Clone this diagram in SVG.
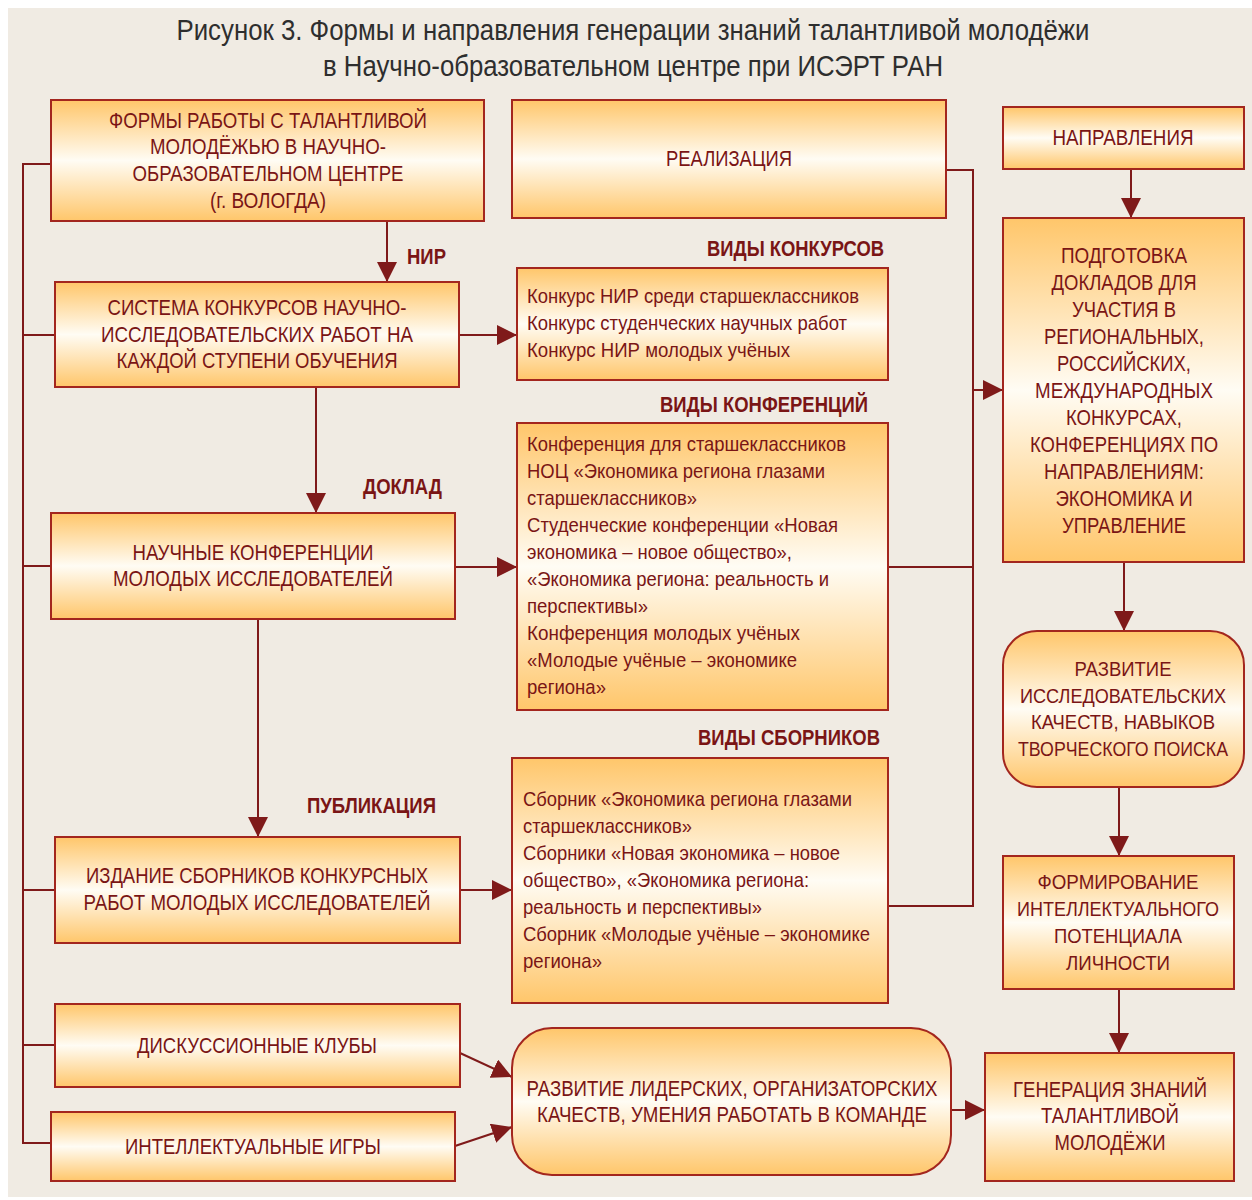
<svg xmlns="http://www.w3.org/2000/svg" width="1252" height="1200" viewBox="0 0 1252 1200">
<defs>
<linearGradient id="g" x1="0" y1="0" x2="0" y2="1">
<stop offset="0" stop-color="#ffc66a"/>
<stop offset="0.5" stop-color="#fffcf4"/>
<stop offset="1" stop-color="#ffc66a"/>
</linearGradient>
<marker id="ah" markerWidth="20" markerHeight="20" refX="20" refY="10" orient="auto" markerUnits="userSpaceOnUse">
<path d="M0,0 L20,10 L0,20 z" fill="#7f1a1a"/>
</marker>
<style>
.box{fill:url(#g);stroke:#a3261e;stroke-width:2}
.t{font-family:"Liberation Sans",Arial,sans-serif;font-size:22px;fill:#7a1515;text-anchor:middle}
.s{font-family:"Liberation Sans",Arial,sans-serif;font-size:21px;fill:#7a1515;text-anchor:middle}
.l{font-family:"Liberation Sans",Arial,sans-serif;font-size:21px;fill:#7a1515;text-anchor:start}
.b{font-family:"Liberation Sans",Arial,sans-serif;font-size:22px;font-weight:bold;fill:#7a1515;text-anchor:start}
.title{font-family:"Liberation Sans",Arial,sans-serif;font-size:29px;fill:#2e2e2e;text-anchor:middle}
.c{fill:none;stroke:#7f1a1a;stroke-width:2}
.a{fill:none;stroke:#7f1a1a;stroke-width:2;marker-end:url(#ah)}
</style>
</defs>
<rect x="0" y="0" width="1252" height="1200" fill="#ffffff"/>
<rect x="8" y="8" width="1244" height="1189" fill="#f0ebe3"/>

<g id="title">
<text class="title" x="633" y="40" textLength="913" lengthAdjust="spacingAndGlyphs">Рисунок 3. Формы и направления генерации знаний талантливой молодёжи</text>
<text class="title" x="633" y="76" textLength="620" lengthAdjust="spacingAndGlyphs">в Научно-образовательном центре при ИСЭРТ РАН</text>
</g>

<g id="connectors">
<path class="c" d="M51,164 H23 V1143 H51"/>
<path class="c" d="M23,335 H55"/>
<path class="c" d="M23,566 H51"/>
<path class="c" d="M23,890 H55"/>
<path class="c" d="M23,1045 H55"/>
<path class="a" d="M387,222 V282"/>
<path class="a" d="M316,388 V513"/>
<path class="a" d="M258,619 V837"/>
<path class="a" d="M459,335 H517"/>
<path class="a" d="M455,567 H517"/>
<path class="a" d="M460,890 H512"/>
<path class="a" d="M460,1053 L512,1077"/>
<path class="a" d="M455,1146 L512,1127"/>
<path class="a" d="M951,1110 H985"/>
<path class="a" d="M1131,169 V218"/>
<path class="a" d="M1124,562 V631"/>
<path class="a" d="M1119,787 V856"/>
<path class="a" d="M1119,989 V1053"/>
<path class="c" d="M946,170 H973 V906 H888"/>
<path class="c" d="M888,567 H973"/>
<path class="a" d="M973,390 H1003"/>
</g>

<g id="labels">
<text class="b" x="407" y="264" textLength="39" lengthAdjust="spacingAndGlyphs">НИР</text>
<text class="b" x="363" y="494" textLength="79" lengthAdjust="spacingAndGlyphs">ДОКЛАД</text>
<text class="b" x="307" y="813" textLength="129" lengthAdjust="spacingAndGlyphs">ПУБЛИКАЦИЯ</text>
<text class="b" x="707" y="256" textLength="177" lengthAdjust="spacingAndGlyphs">ВИДЫ КОНКУРСОВ</text>
<text class="b" x="660" y="412" textLength="208" lengthAdjust="spacingAndGlyphs">ВИДЫ КОНФЕРЕНЦИЙ</text>
<text class="b" x="698" y="745" textLength="182" lengthAdjust="spacingAndGlyphs">ВИДЫ СБОРНИКОВ</text>
</g>

<g id="forms">
<rect class="box" x="51" y="100" width="433" height="121"/>
<text class="t" x="268" y="128" textLength="318" lengthAdjust="spacingAndGlyphs">ФОРМЫ РАБОТЫ С ТАЛАНТЛИВОЙ</text>
<text class="t" x="268" y="154" textLength="236" lengthAdjust="spacingAndGlyphs">МОЛОДЁЖЬЮ В НАУЧНО-</text>
<text class="t" x="268" y="181" textLength="271" lengthAdjust="spacingAndGlyphs">ОБРАЗОВАТЕЛЬНОМ ЦЕНТРЕ</text>
<text class="t" x="268" y="208" textLength="116" lengthAdjust="spacingAndGlyphs">(г. ВОЛОГДА)</text>
</g>

<g id="realization">
<rect class="box" x="512" y="100" width="434" height="118"/>
<text class="t" x="729" y="166" textLength="126" lengthAdjust="spacingAndGlyphs">РЕАЛИЗАЦИЯ</text>
</g>

<g id="directions">
<rect class="box" x="1003" y="107" width="241" height="62"/>
<text class="t" x="1123" y="145" textLength="141" lengthAdjust="spacingAndGlyphs">НАПРАВЛЕНИЯ</text>
</g>

<g id="preparation">
<rect class="box" x="1003" y="218" width="241" height="344"/>
<text class="t" x="1124" y="263" textLength="126" lengthAdjust="spacingAndGlyphs">ПОДГОТОВКА</text>
<text class="t" x="1124" y="290" textLength="145" lengthAdjust="spacingAndGlyphs">ДОКЛАДОВ ДЛЯ</text>
<text class="t" x="1124" y="317" textLength="104" lengthAdjust="spacingAndGlyphs">УЧАСТИЯ В</text>
<text class="t" x="1124" y="344" textLength="160" lengthAdjust="spacingAndGlyphs">РЕГИОНАЛЬНЫХ,</text>
<text class="t" x="1124" y="371" textLength="134" lengthAdjust="spacingAndGlyphs">РОССИЙСКИХ,</text>
<text class="t" x="1124" y="398" textLength="178" lengthAdjust="spacingAndGlyphs">МЕЖДУНАРОДНЫХ</text>
<text class="t" x="1124" y="425" textLength="116" lengthAdjust="spacingAndGlyphs">КОНКУРСАХ,</text>
<text class="t" x="1124" y="452" textLength="188" lengthAdjust="spacingAndGlyphs">КОНФЕРЕНЦИЯХ ПО</text>
<text class="t" x="1124" y="479" textLength="160" lengthAdjust="spacingAndGlyphs">НАПРАВЛЕНИЯМ:</text>
<text class="t" x="1124" y="506" textLength="137" lengthAdjust="spacingAndGlyphs">ЭКОНОМИКА И</text>
<text class="t" x="1124" y="533" textLength="124" lengthAdjust="spacingAndGlyphs">УПРАВЛЕНИЕ</text>
</g>

<g id="contests-system">
<rect class="box" x="55" y="282" width="404" height="105"/>
<text class="t" x="257" y="315" textLength="299" lengthAdjust="spacingAndGlyphs">СИСТЕМА КОНКУРСОВ НАУЧНО-</text>
<text class="t" x="257" y="342" textLength="312" lengthAdjust="spacingAndGlyphs">ИССЛЕДОВАТЕЛЬСКИХ РАБОТ НА</text>
<text class="t" x="257" y="368" textLength="281" lengthAdjust="spacingAndGlyphs">КАЖДОЙ СТУПЕНИ ОБУЧЕНИЯ</text>
</g>

<g id="contest-types">
<rect class="box" x="517" y="268" width="371" height="112"/>
<text class="l" x="527" y="303" textLength="332" lengthAdjust="spacingAndGlyphs">Конкурс НИР среди старшеклассников</text>
<text class="l" x="527" y="330" textLength="320" lengthAdjust="spacingAndGlyphs">Конкурс студенческих научных работ</text>
<text class="l" x="527" y="357" textLength="263" lengthAdjust="spacingAndGlyphs">Конкурс НИР молодых учёных</text>
</g>

<g id="conferences">
<rect class="box" x="51" y="513" width="404" height="106"/>
<text class="t" x="253" y="560" textLength="241" lengthAdjust="spacingAndGlyphs">НАУЧНЫЕ КОНФЕРЕНЦИИ</text>
<text class="t" x="253" y="586" textLength="280" lengthAdjust="spacingAndGlyphs">МОЛОДЫХ ИССЛЕДОВАТЕЛЕЙ</text>
</g>

<g id="conference-types">
<rect class="box" x="517" y="423" width="371" height="287"/>
<text class="l" x="527" y="451" textLength="319" lengthAdjust="spacingAndGlyphs">Конференция для старшеклассников</text>
<text class="l" x="527" y="478" textLength="298" lengthAdjust="spacingAndGlyphs">НОЦ «Экономика региона глазами</text>
<text class="l" x="527" y="505" textLength="170" lengthAdjust="spacingAndGlyphs">старшеклассников»</text>
<text class="l" x="527" y="532" textLength="311" lengthAdjust="spacingAndGlyphs">Студенческие конференции «Новая</text>
<text class="l" x="527" y="559" textLength="265" lengthAdjust="spacingAndGlyphs">экономика – новое общество»,</text>
<text class="l" x="527" y="586" textLength="302" lengthAdjust="spacingAndGlyphs">«Экономика региона: реальность и</text>
<text class="l" x="527" y="613" textLength="121" lengthAdjust="spacingAndGlyphs">перспективы»</text>
<text class="l" x="527" y="640" textLength="273" lengthAdjust="spacingAndGlyphs">Конференция  молодых учёных</text>
<text class="l" x="527" y="667" textLength="270" lengthAdjust="spacingAndGlyphs">«Молодые учёные – экономике</text>
<text class="l" x="527" y="694" textLength="79" lengthAdjust="spacingAndGlyphs">региона»</text>
</g>

<g id="publication">
<rect class="box" x="55" y="837" width="405" height="106"/>
<text class="t" x="257" y="883" textLength="342" lengthAdjust="spacingAndGlyphs">ИЗДАНИЕ СБОРНИКОВ КОНКУРСНЫХ</text>
<text class="t" x="257" y="910" textLength="347" lengthAdjust="spacingAndGlyphs">РАБОТ МОЛОДЫХ ИССЛЕДОВАТЕЛЕЙ</text>
</g>

<g id="collection-types">
<rect class="box" x="512" y="758" width="376" height="245"/>
<text class="l" x="523" y="806" textLength="329" lengthAdjust="spacingAndGlyphs">Сборник «Экономика региона глазами</text>
<text class="l" x="523" y="833" textLength="169" lengthAdjust="spacingAndGlyphs">старшеклассников»</text>
<text class="l" x="523" y="860" textLength="317" lengthAdjust="spacingAndGlyphs">Сборники «Новая экономика – новое</text>
<text class="l" x="523" y="887" textLength="286" lengthAdjust="spacingAndGlyphs">общество», «Экономика региона:</text>
<text class="l" x="523" y="914" textLength="239" lengthAdjust="spacingAndGlyphs">реальность и перспективы»</text>
<text class="l" x="523" y="941" textLength="347" lengthAdjust="spacingAndGlyphs">Сборник «Молодые учёные – экономике</text>
<text class="l" x="523" y="968" textLength="79" lengthAdjust="spacingAndGlyphs">региона»</text>
</g>

<g id="clubs">
<rect class="box" x="55" y="1004" width="405" height="83"/>
<text class="t" x="257" y="1053" textLength="240" lengthAdjust="spacingAndGlyphs">ДИСКУССИОННЫЕ КЛУБЫ</text>
</g>

<g id="games">
<rect class="box" x="51" y="1112" width="404" height="69"/>
<text class="t" x="253" y="1154" textLength="256" lengthAdjust="spacingAndGlyphs">ИНТЕЛЛЕКТУАЛЬНЫЕ ИГРЫ</text>
</g>

<g id="leadership">
<rect class="box" x="512" y="1028" width="439" height="147" rx="40" ry="40"/>
<text class="t" x="732" y="1096" textLength="411" lengthAdjust="spacingAndGlyphs">РАЗВИТИЕ ЛИДЕРСКИХ, ОРГАНИЗАТОРСКИХ</text>
<text class="t" x="732" y="1122" textLength="390" lengthAdjust="spacingAndGlyphs">КАЧЕСТВ, УМЕНИЯ РАБОТАТЬ В КОМАНДЕ</text>
</g>

<g id="research-skills">
<rect class="box" x="1003" y="631" width="241" height="156" rx="34" ry="34"/>
<text class="s" x="1123" y="676" textLength="97" lengthAdjust="spacingAndGlyphs">РАЗВИТИЕ</text>
<text class="s" x="1123" y="703" textLength="206" lengthAdjust="spacingAndGlyphs">ИССЛЕДОВАТЕЛЬСКИХ</text>
<text class="s" x="1123" y="729" textLength="184" lengthAdjust="spacingAndGlyphs">КАЧЕСТВ, НАВЫКОВ</text>
<text class="s" x="1123" y="756" textLength="210" lengthAdjust="spacingAndGlyphs">ТВОРЧЕСКОГО ПОИСКА</text>
</g>

<g id="potential">
<rect class="box" x="1003" y="856" width="231" height="133"/>
<text class="s" x="1118" y="889" textLength="161" lengthAdjust="spacingAndGlyphs">ФОРМИРОВАНИЕ</text>
<text class="s" x="1118" y="916" textLength="202" lengthAdjust="spacingAndGlyphs">ИНТЕЛЛЕКТУАЛЬНОГО</text>
<text class="s" x="1118" y="943" textLength="128" lengthAdjust="spacingAndGlyphs">ПОТЕНЦИАЛА</text>
<text class="s" x="1118" y="970" textLength="104" lengthAdjust="spacingAndGlyphs">ЛИЧНОСТИ</text>
</g>

<g id="generation">
<rect class="box" x="985" y="1053" width="249" height="128"/>
<text class="t" x="1110" y="1097" textLength="194" lengthAdjust="spacingAndGlyphs">ГЕНЕРАЦИЯ ЗНАНИЙ</text>
<text class="t" x="1110" y="1123" textLength="138" lengthAdjust="spacingAndGlyphs">ТАЛАНТЛИВОЙ</text>
<text class="t" x="1110" y="1150" textLength="111" lengthAdjust="spacingAndGlyphs">МОЛОДЁЖИ</text>
</g>
</svg>
